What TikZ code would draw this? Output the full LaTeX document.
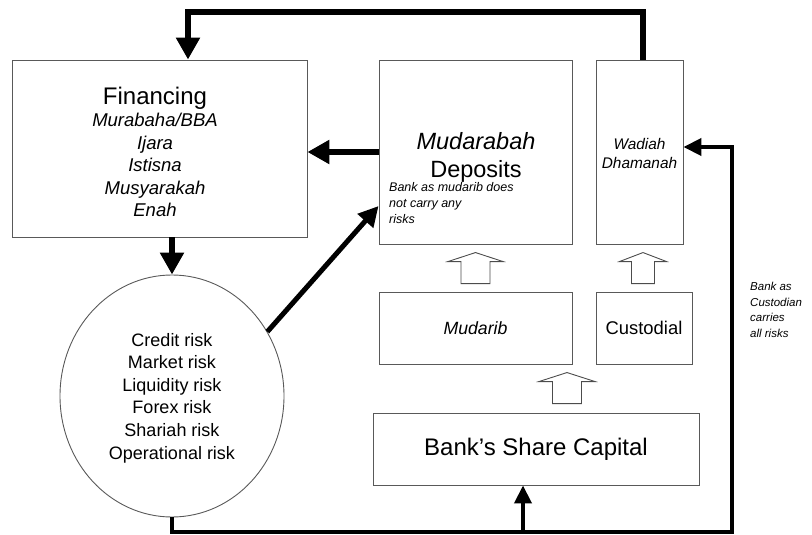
\documentclass[tikz,border=0pt]{standalone}
\usepackage{fontspec}
\setmainfont{Liberation Sans}
\usetikzlibrary{arrows.meta,shapes.geometric,calc}
\begin{document}
\begin{tikzpicture}[x=1pt,y=-1pt,
  box/.style={draw=black!65, line width=0.9pt, fill=white, rectangle, inner sep=0pt},
  bigarr/.style={line width=6pt, line join=miter, -{Triangle[width=23pt,length=22pt]}},
  midline/.style={line width=4pt, line join=miter},
  midtip/.style={-{Triangle[width=17pt,length=18pt]}},
  hollow/.style={draw=black!70, line width=0.9pt, fill=white, line join=miter},
  pics/uparr/.style 2 args={code={
    \draw[hollow] (-#2,0) -- (-#2,-22) -- (-#1,-22) -- (0,-31) -- (#1,-22) -- (#2,-22) -- (#2,0) -- cycle;}}
]
\useasboundingbox (0,0) rectangle (812,535);

% boxes
\node[box, minimum width=295pt, minimum height=177pt] (fin) at (159.5,148.5) {};
\node[align=center, font=\fontsize{18.5}{22.5}\selectfont\itshape] (fintext) at (155,152)
  {{\upshape\fontsize{24}{22.5}\selectfont Financing}\\Murabaha/BBA\\Ijara\\Istisna\\Musyarakah\\Enah};

\node[box, minimum width=193pt, minimum height=184pt] (mud) at (475.5,152) {};
\node[align=center, font=\fontsize{23.5}{28}\selectfont] (mudtext) at (476,157)
  {\itshape Mudarabah\\Deposits};
\node[anchor=north west, align=left, inner sep=0pt, font=\fontsize{12.5}{16}\selectfont\itshape] (mudnote) at (389,182)
  {Bank as mudarib does\\not carry any\\risks};

\node[box, minimum width=87pt, minimum height=184pt] (wad) at (639.5,152) {};
\node[align=center, font=\fontsize{15.4}{19}\selectfont\itshape] (wadtext) at (639.5,153.5)
  {Wadiah\\Dhamanah};

\node[box, minimum width=193pt, minimum height=72pt, font=\fontsize{17.7}{19}\selectfont\itshape] (mdb) at (475.5,328) {Mudarib};
\node[box, minimum width=96pt, minimum height=72pt, font=\fontsize{18.4}{19}\selectfont] (cus) at (644,328) {Custodial};
\node[box, minimum width=326pt, minimum height=72pt, font=\fontsize{24}{24}\selectfont] (cap) at (536,449) {Bank’s Share Capital};

\node[draw=black!65, line width=0.9pt, ellipse, minimum width=224pt, minimum height=242pt, inner sep=0pt] (risk) at (172,396) {};
\node[align=center, font=\fontsize{18}{22.6}\selectfont] (risktext) at (172,398)
  {Credit risk\\Market risk\\Liquidity risk\\Forex risk\\Shariah risk\\Operational risk};

\node[anchor=north west, align=left, inner sep=0pt, font=\fontsize{11.5}{15.5}\selectfont\itshape] (custnote) at (750,282)
  {Bank as\\Custodian\\carries\\all risks};

% hollow arrows
\pic at ([yshift=8pt]mdb.north) {uparr={27.5}{14.5}};
\pic at ([yshift=8pt,xshift=-1pt]cus.north) {uparr={23.5}{11.5}};
\pic at ([yshift=9pt,xshift=31pt]cap.north) {uparr={28}{14.5}};

% thick connectors
\coordinate (top) at (643,12);
\draw[bigarr] ([xshift=3.5pt]wad.north) -- (top) -| ([xshift=28.5pt]fin.north);
\draw[bigarr] (mud.west) -- (mud.west -| fin.east);
\draw[bigarr] (risk.north |- fin.south) -- (risk.north);
\draw[line width=5pt, -{Triangle[width=20pt,length=20pt]}] (risk.34) -- ([yshift=-54pt]mud.west);

\coordinate (bl) at (172,532);
\coordinate (br) at (732,532);
\coordinate (capin) at ([xshift=-13pt]cap.south);
\draw[midline, midtip] (risk.south) -- (bl) -- (br) |- ([yshift=5pt]wad.east);
\draw[midline, midtip] (capin |- br) -- (capin);
\end{tikzpicture}
\end{document}
